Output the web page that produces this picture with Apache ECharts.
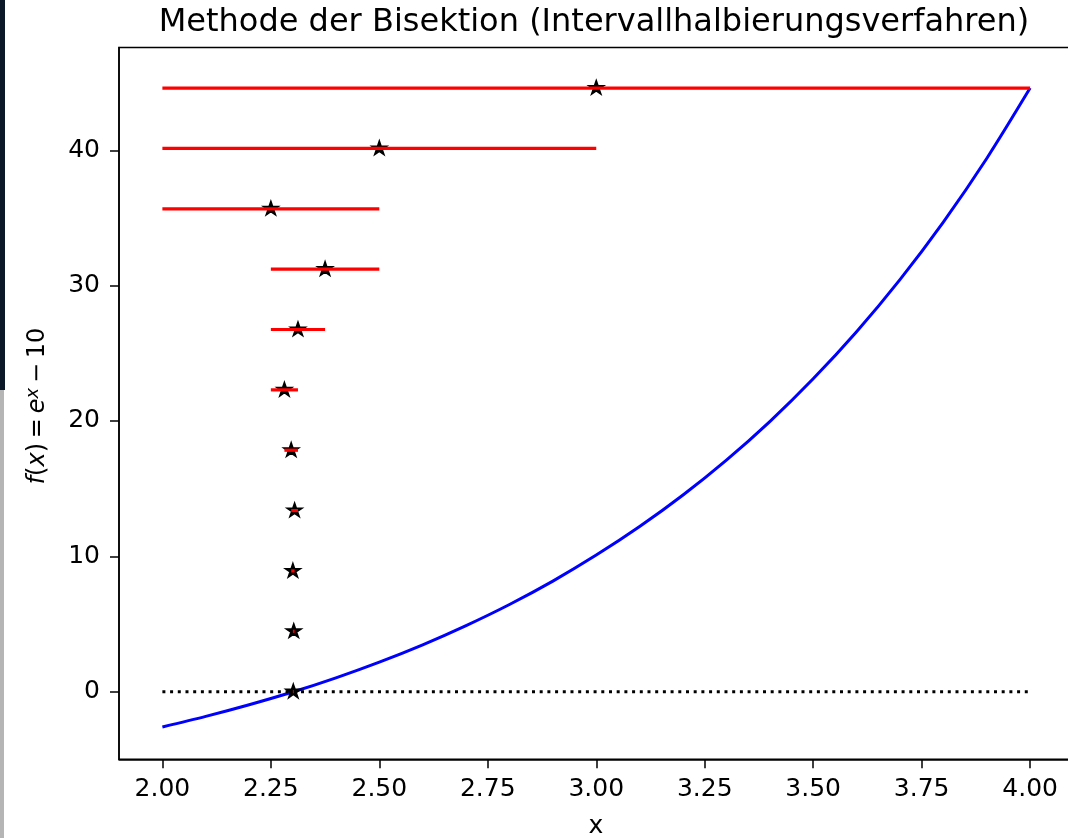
<!DOCTYPE html>
<html><head><meta charset="utf-8">
<script src="https://cdn.jsdelivr.net/npm/echarts@6/dist/echarts.min.js"></script>
<style>html,body{margin:0;padding:0;background:#fff}#c{width:1068px;height:838px}</style>
</head><body><div id="c"></div>
<script>
// Curve f(x) = e^x - 10
const curveX = [2.0, 2.1, 2.2, 2.3, 2.4, 2.5, 2.6, 2.7, 2.8, 2.9, 3.0, 3.1, 3.2, 3.3, 3.4, 3.5, 3.6, 3.7, 3.8, 3.9, 4.0];
const curveY = [-2.61, -1.83, -0.97, -0.03, 1.02, 2.18, 3.46, 4.88, 6.44, 8.17, 10.09, 12.20, 14.53, 17.11, 19.96, 23.12, 26.60, 30.45, 34.70, 39.40, 44.60];
// Bisection intervals (red lines) and midpoints (stars)
const intervalLeft  = [2, 2, 2, 2.25, 2.25, 2.25, 2.28125, 2.296875, 2.296875, 2.30078125, 2.30078125];
const intervalRight = [4, 3, 2.5, 2.5, 2.375, 2.3125, 2.3125, 2.3125, 2.3046875, 2.3046875, 2.302734375];
const midpoints     = [3, 2.5, 2.25, 2.375, 2.3125, 2.28125, 2.296875, 2.3046875, 2.30078125, 2.302734375, 2.3017578125];
const levels        = [44.6, 40.14, 35.68, 31.22, 26.76, 22.30, 17.84, 13.38, 8.92, 4.46, 0];
const zeroLineX = [2, 4];
const zeroLineY = [0, 0];
const xTicks = [2.00, 2.25, 2.50, 2.75, 3.00, 3.25, 3.50, 3.75, 4.00];
const yTicks = [0, 10, 20, 30, 40];
const titleText = 'Methode der Bisektion (Intervallhalbierungsverfahren)';

const FONT = 'DejaVu Sans';
const STAR = 'path://M0 -100 L22.45 -30.9 L95.11 -30.9 L36.33 11.8 L58.78 80.9 L0 38.2 L-58.78 80.9 L-36.33 11.8 L-95.11 -30.9 L-22.45 -30.9 Z';

const chart = echarts.init(document.getElementById('c'), null, {renderer: 'canvas'});

const series = [];
series.push({
  type: 'line', data: curveX.map((x, i) => [x, curveY[i]]), smooth: 0.3,
  showSymbol: false, symbol: 'none', lineStyle: {color: '#0000ff', width: 3}, z: 2, silent: true
});
series.push({
  type: 'line', data: zeroLineX.map((x, i) => [x, zeroLineY[i]]),
  showSymbol: false, symbol: 'none', lineStyle: {color: '#000', width: 3, type: [3, 4.7], cap: 'butt'}, z: 2, silent: true
});
series.push({
  type: 'scatter', data: midpoints.map((x, i) => [x, levels[i]]),
  symbol: STAR, symbolSize: [15, 14.3], symbolKeepAspect: true, symbolOffset: [0, -0.7],
  itemStyle: {color: '#000', borderColor: '#000', borderWidth: 1.5, opacity: 1}, z: 3, silent: true
});
intervalLeft.forEach((l, i) => {
  series.push({
    type: 'line', data: [[l, levels[i]], [intervalRight[i], levels[i]]],
    showSymbol: false, symbol: 'none', lineStyle: {color: '#ff0000', width: 3.2, cap: 'butt'}, z: 4, silent: true
  });
});

const axisText = {color: '#000', fontFamily: FONT, fontSize: 25};

chart.setOption({
  animation: false,
  backgroundColor: '#fff',
  grid: {left: 119, top: 47.5, width: 954.5, height: 711.8, show: true, borderColor: '#000', borderWidth: 1.5, backgroundColor: '#fff', outerBoundsMode: 'none', containLabel: false},
  xAxis: {
    type: 'value', min: 1.9, max: 4.1,
    axisLine: {show: true, onZero: false, lineStyle: {color: '#000', width: 1.5}},
    axisTick: {show: true, length: 9, lineStyle: {color: '#000', width: 1.5}, customValues: xTicks},
    axisLabel: Object.assign({margin: 18, customValues: xTicks, formatter: v => v.toFixed(2)}, axisText),
    splitLine: {show: false}
  },
  yAxis: {
    type: 'value', min: -5.0, max: 47.6,
    axisLine: {show: true, onZero: false, lineStyle: {color: '#000', width: 1.5}},
    axisTick: {show: true, length: 9, lineStyle: {color: '#000', width: 1.5}, customValues: yTicks},
    axisLabel: Object.assign({margin: 19, customValues: yTicks, formatter: v => String(v)}, axisText),
    splitLine: {show: false}
  },
  graphic: [
    {type: 'rect', shape: {x: 0, y: 0, width: 5, height: 390}, style: {fill: '#0b1828'}, z: 100},
    {type: 'rect', shape: {x: 0, y: 390, width: 4, height: 448}, style: {fill: '#b5b5b5'}, z: 100},
    {type: 'text', x: 594, y: 23, style: {text: titleText, font: '32px "DejaVu Sans"', fill: '#000', textAlign: 'center', textVerticalAlign: 'middle'}, z: 100},
    {type: 'text', x: 596, y: 826, style: {text: 'x', font: '25px "DejaVu Sans"', fill: '#000', textAlign: 'center', textVerticalAlign: 'middle'}, z: 100},
    {type: 'text', x: 38, y: 406, rotation: Math.PI / 2,
      style: {
        text: '{i|f}({i|x})\u2009=\u2009{i|e}{s|x}\u2009−\u200910',
        font: '24px "DejaVu Sans"', fill: '#000', textAlign: 'center', textVerticalAlign: 'middle',
        rich: {
          i: {fontFamily: FONT, fontSize: 24, fontStyle: 'italic', fill: '#000'},
          s: {fontFamily: FONT, fontSize: 18, fontStyle: 'italic', fill: '#000', verticalAlign: 'top', padding: [0, 0, 9, 0]}
        }
      }, z: 100}
  ],
  series: series
});
</script></body></html>
